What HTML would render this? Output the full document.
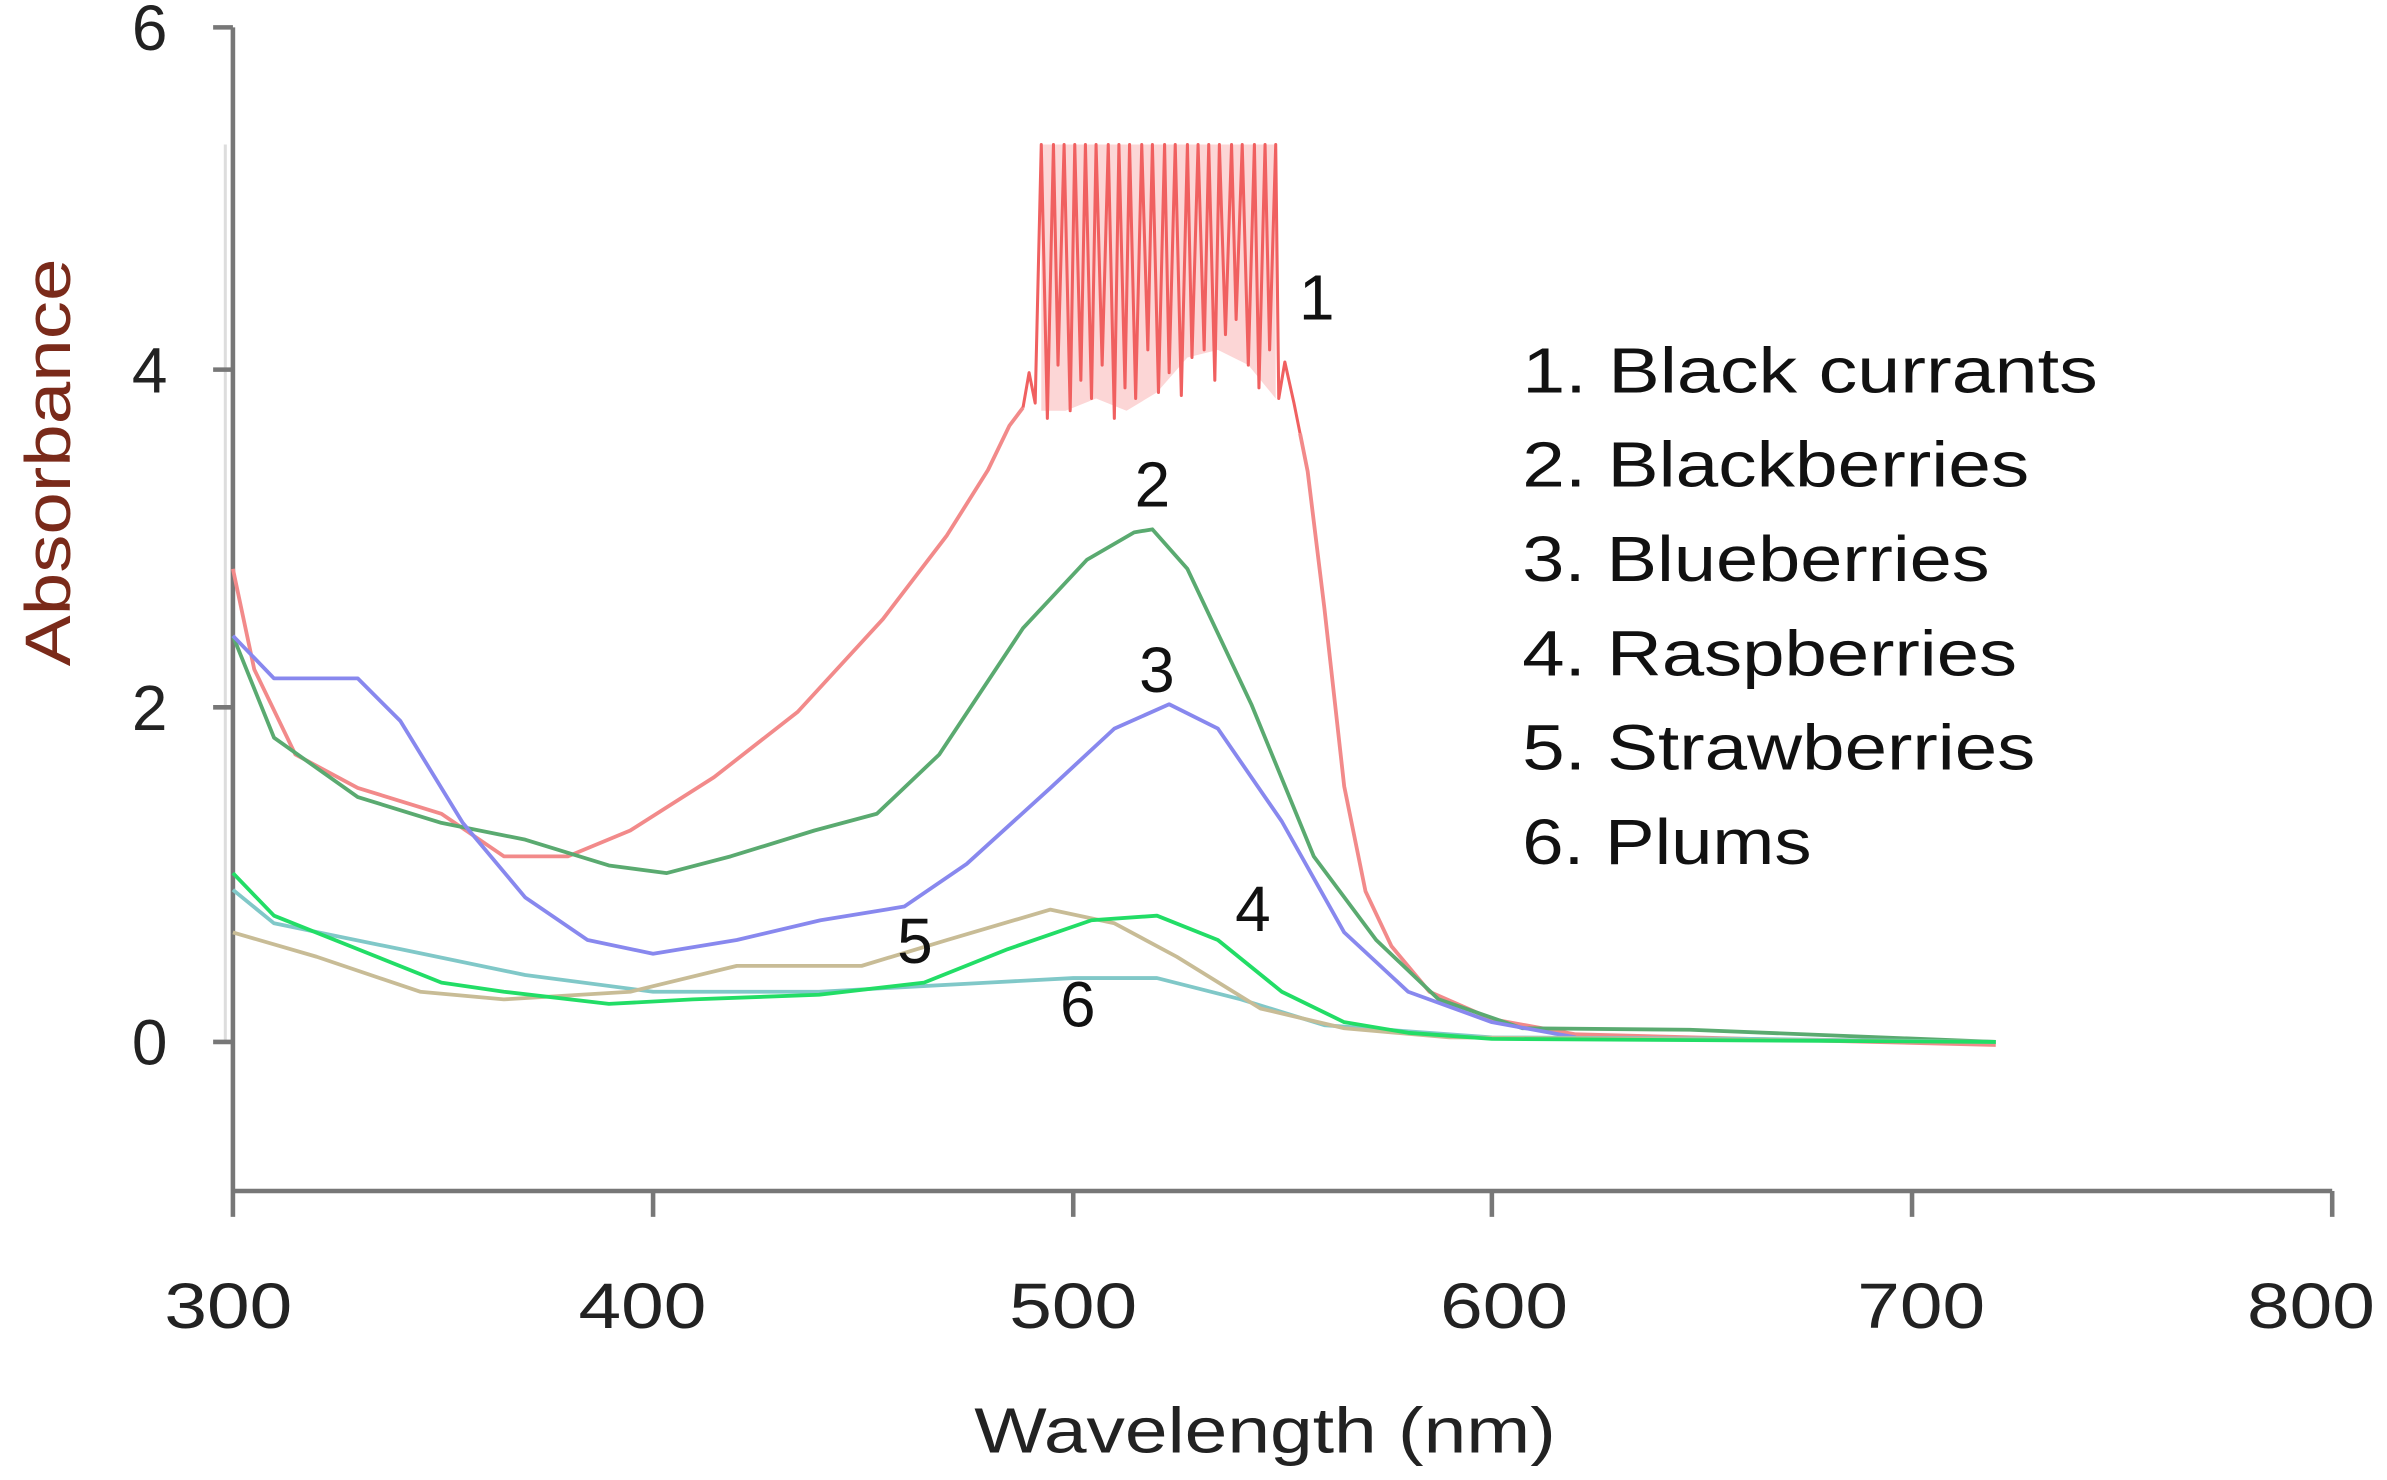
<!DOCTYPE html>
<html><head><meta charset="utf-8"><style>
html,body{margin:0;padding:0;background:#fff}
svg{display:block}
text{font-family:"Liberation Sans",sans-serif}
</style></head><body>
<svg width="2387" height="1480" viewBox="0 0 1568 973" preserveAspectRatio="none" xmlns="http://www.w3.org/2000/svg">
<rect width="1568" height="973" fill="#fff"/>
<line x1="148" y1="95" x2="148" y2="685" stroke="#ddd" stroke-width="2"/>
<line x1="153" y1="18" x2="153" y2="783" stroke="#777" stroke-width="3"/>
<g stroke="#777" stroke-width="3">
<line x1="140" y1="18" x2="153" y2="18"/><line x1="140" y1="243" x2="153" y2="243"/>
<line x1="140" y1="465" x2="153" y2="465"/><line x1="140" y1="685" x2="153" y2="685"/>
<line x1="153" y1="783" x2="1532" y2="783"/>
<line x1="153" y1="783" x2="153" y2="800"/><line x1="429" y1="783" x2="429" y2="800"/>
<line x1="705" y1="783" x2="705" y2="800"/><line x1="980" y1="783" x2="980" y2="800"/>
<line x1="1256" y1="783" x2="1256" y2="800"/><line x1="1532" y1="783" x2="1532" y2="800"/>
</g>
<g font-size="42" fill="#222" text-anchor="end">
<text x="110" y="33">6</text><text x="110" y="258">4</text><text x="110" y="480">2</text><text x="110" y="700">0</text>
</g>
<g font-size="42" fill="#222">
<text x="108" y="873" textLength="84" lengthAdjust="spacingAndGlyphs">300</text>
<text x="380" y="873" textLength="84" lengthAdjust="spacingAndGlyphs">400</text>
<text x="663" y="873" textLength="84" lengthAdjust="spacingAndGlyphs">500</text>
<text x="946" y="873" textLength="84" lengthAdjust="spacingAndGlyphs">600</text>
<text x="1220" y="873" textLength="84" lengthAdjust="spacingAndGlyphs">700</text>
<text x="1476" y="873" textLength="84" lengthAdjust="spacingAndGlyphs">800</text>
<text x="640" y="955" textLength="382" lengthAdjust="spacingAndGlyphs">Wavelength (nm)</text>
</g>
<text transform="translate(46,438) rotate(-90)" font-size="42" fill="#7a2a1a" textLength="268" lengthAdjust="spacingAndGlyphs">Absorbance</text>

<g fill="none" stroke-width="2.5" stroke-linejoin="round">
<path stroke="#f28a8a" d="M153,374 L167,440 L194,496 L235,518 L290,535 L331,563 L373,563 L414,546 L469,511 L524,468 L580,407 L622,352 L649,309 L663,280 L672,268"/>
<path fill="#fcd6d6" stroke="none" d="M684,95 L838,95 L838,262 L820,240 L800,230 L780,235 L760,258 L740,270 L720,262 L700,270 L684,270 Z"/>
<path stroke="#f06060" stroke-width="2" d="M672,268 L676,245 L680,265 L684,95 L688,275 L692,95 L695,240 L699,95 L703,270 L706,95 L710,250 L713,95 L717,262 L720,95 L724,240 L728,95 L732,275 L735,95 L739,255 L742,95 L746,262 L750,95 L754,230 L757,95 L761,258 L765,95 L768,245 L772,95 L776,260 L780,95 L783,235 L787,95 L791,230 L794,95 L798,250 L801,95 L805,220 L809,95 L812,210 L816,95 L820,240 L824,95 L827,255 L831,95 L834,230 L838,95 L840,262 L844,238 L850,265 L854,285"/>
<path stroke="#f28a8a" d="M854,285 L859,310 L870,400 L883,517 L897,586 L914,622 L939,652 L980,670 L1035,680 L1150,683 L1311,687"/>
<path stroke="#5aaa70" d="M153,418 L180,485 L235,524 L290,541 L345,552 L400,569 L438,574 L480,563 L535,546 L576,535 L617,496 L672,413 L714,368 L745,350 L757,348 L780,374 L822,463 L863,563 L904,618 L945,657 L1000,676 L1110,677 L1311,685"/>
<path stroke="#8888ee" d="M153,418 L180,446 L235,446 L263,474 L304,541 L345,590 L386,618 L429,627 L484,618 L539,605 L594,596 L635,568 L690,518 L732,479 L768,463 L800,479 L842,540 L883,613 L925,652 L980,672 L1035,682"/>
<path stroke="#80c8c8" d="M153,585 L180,607 L263,624 L345,641 L429,652 L538,652 L649,646 L705,643 L760,643 L815,657 L870,674 L980,682 L1150,683 L1311,685"/>
<path stroke="#c8bc96" d="M153,613 L208,629 L276,652 L331,657 L414,652 L484,635 L566,635 L622,618 L690,598 L732,607 L773,629 L828,663 L883,676 L952,682 L1311,685"/>
<path stroke="#22dd66" d="M153,574 L180,602 L235,624 L290,646 L331,652 L400,660 L455,657 L538,654 L607,646 L662,624 L717,605 L760,602 L800,618 L842,652 L883,672 L925,679 L980,683 L1311,685"/>
</g>

<g font-size="42" fill="#111" text-anchor="middle">
<text x="865" y="210">1</text><text x="757" y="333">2</text><text x="760" y="455">3</text>
<text x="823" y="612">4</text><text x="601" y="633">5</text><text x="708" y="675">6</text>
</g>
<g font-size="42" fill="#111" lengthAdjust="spacingAndGlyphs">
<text x="1000" y="258" textLength="378" lengthAdjust="spacingAndGlyphs">1. Black currants</text>
<text x="1000" y="320" textLength="333" lengthAdjust="spacingAndGlyphs">2. Blackberries</text>
<text x="1000" y="382" textLength="307" lengthAdjust="spacingAndGlyphs">3. Blueberries</text>
<text x="1000" y="444" textLength="325" lengthAdjust="spacingAndGlyphs">4. Raspberries</text>
<text x="1000" y="506" textLength="337" lengthAdjust="spacingAndGlyphs">5. Strawberries</text>
<text x="1000" y="568" textLength="190" lengthAdjust="spacingAndGlyphs">6. Plums</text>
</g>
</svg>
</body></html>
